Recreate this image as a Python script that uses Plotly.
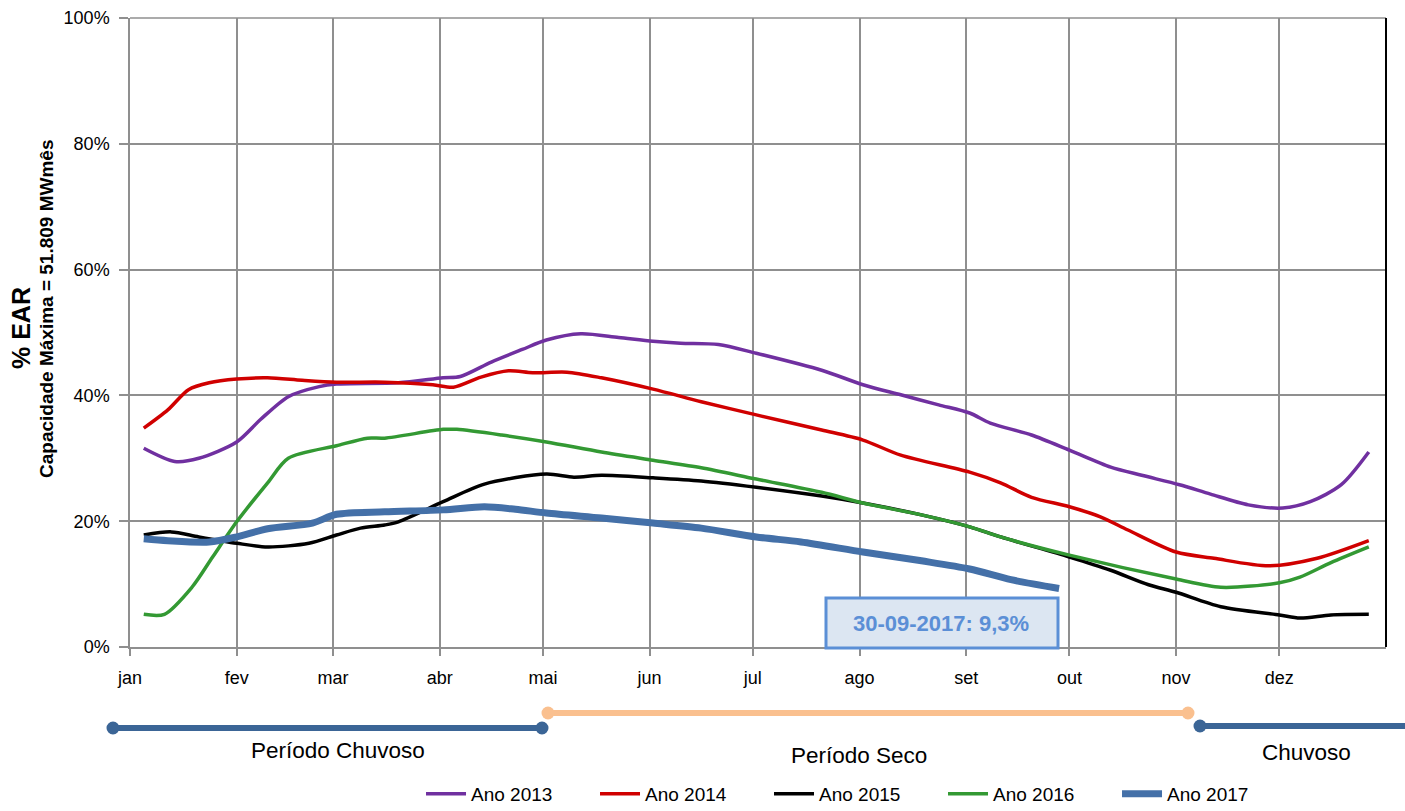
import numpy as np
import plotly.graph_objects as go

# ---- data: % EAR (energia armazenada) by day of year ----
meses = ["jan", "fev", "mar", "abr", "mai", "jun", "jul", "ago", "set", "out", "nov", "dez"]
pct_ticks = [0, 20, 40, 60, 80, 100]

dias_2013 = [4, 13, 20, 31, 38, 46, 55, 60, 78, 91, 96, 105, 114, 121, 131, 142, 152, 160, 171,
             182, 201, 213, 224, 235, 244, 250, 262, 273, 285, 294, 305, 314, 325, 335, 343, 352, 360]
ear_2013 = [31.6, 29.5, 30.0, 32.6, 36.2, 39.8, 41.4, 41.8, 42.0, 42.8, 43.0, 45.3, 47.3, 48.8, 49.8,
            49.2, 48.6, 48.3, 48.1, 46.7, 44.0, 41.7, 40.1, 38.5, 37.2, 35.6, 33.7, 31.3, 28.6, 27.3,
            25.8, 24.3, 22.6, 22.1, 23.1, 25.8, 31.0]

dias_2014 = [4, 11, 17, 23, 31, 40, 50, 60, 74, 88, 94, 102, 110, 117, 127, 137, 152, 166, 182,
             201, 213, 224, 244, 253, 262, 273, 282, 290, 304, 315, 331, 345, 360]
ear_2014 = [34.8, 37.7, 40.9, 42.0, 42.6, 42.8, 42.4, 42.1, 42.1, 41.7, 41.3, 42.9, 43.9, 43.6, 43.7,
            42.8, 41.0, 39.0, 36.9, 34.5, 32.9, 30.5, 27.8, 26.1, 23.8, 22.3, 20.7, 18.6, 15.1, 14.1,
            12.9, 14.1, 16.9]

dias_2015 = [4, 12, 20, 31, 40, 52, 60, 67, 74, 78, 91, 103, 121, 129, 137, 152, 166, 182, 201,
             213, 230, 244, 253, 273, 285, 296, 304, 317, 334, 340, 349, 360]
ear_2015 = [17.8, 18.3, 17.5, 16.5, 15.9, 16.5, 17.8, 18.9, 19.4, 19.9, 23.1, 25.9, 27.5, 27.0, 27.3,
            26.9, 26.4, 25.4, 24.0, 22.9, 21.0, 19.1, 17.5, 14.3, 12.2, 9.9, 8.7, 6.4, 5.1, 4.6, 5.1, 5.2]

dias_2016 = [4, 10, 18, 24, 31, 40, 46, 60, 69, 74, 91, 95, 108, 121, 137, 152, 166, 182, 201,
             213, 230, 244, 253, 273, 304, 317, 334, 340, 349, 360]
ear_2016 = [5.2, 5.2, 9.5, 14.3, 19.9, 26.1, 30.0, 32.0, 33.2, 33.2, 34.6, 34.6, 33.7, 32.6, 31.0,
            29.7, 28.5, 26.7, 24.6, 22.9, 21.0, 19.1, 17.5, 14.6, 10.8, 9.5, 10.2, 11.1, 13.4, 15.9]

dias_2017 = [4, 11, 23, 31, 40, 53, 60, 74, 91, 103, 112, 121, 137, 152, 166, 182, 195, 213, 230,
             244, 256, 270]
ear_2017 = [17.2, 16.9, 16.7, 17.5, 18.8, 19.7, 21.1, 21.5, 21.8, 22.3, 21.9, 21.3, 20.5, 19.7, 18.9,
            17.5, 16.7, 15.1, 13.7, 12.4, 10.7, 9.3]

series = [
    ("Ano 2013", dias_2013, ear_2013, "#7030A0", 3.5),
    ("Ano 2014", dias_2014, ear_2014, "#D00000", 3.5),
    ("Ano 2015", dias_2015, ear_2015, "#000000", 3.5),
    ("Ano 2016", dias_2016, ear_2016, "#339933", 3.5),
    ("Ano 2017", dias_2017, ear_2017, "#4470A8", 7),
]

inicio = np.datetime64("2017-01-01")


def to_dates(dias):
    return [str(inicio + np.timedelta64(int(d), "D")) for d in dias]


mes_ticks = [str(np.datetime64("2017-%02d-01" % m)) for m in range(1, 13)]

FONT = "Liberation Sans, Arial, sans-serif"
GRID = "#8f8f8f"

fig = go.Figure()
for nome, dias, vals, cor, lw in series:
    fig.add_trace(go.Scatter(
        x=to_dates(dias), y=vals, name=nome, mode="lines",
        line=dict(color=cor, width=lw, shape="spline", smoothing=0.8),
    ))

fig.update_layout(
    width=1405, height=811,
    margin=dict(l=130, r=19, t=18, b=164, autoexpand=False),
    paper_bgcolor="white", plot_bgcolor="white",
    showlegend=True,
    legend=dict(
        orientation="h", x=0.2317, y=-0.2035, xanchor="left", yanchor="top",
        font=dict(family=FONT, size=19, color="#000"),
        itemwidth=40, entrywidth=119, entrywidthmode="pixels",
        bgcolor="rgba(0,0,0,0)", tracegroupgap=0,
    ),
    xaxis=dict(
        type="date", range=["2017-01-01", "2018-01-01"],
        tickvals=mes_ticks, ticktext=meses,
        showgrid=True, gridcolor=GRID, gridwidth=1.5,
        showline=True, linecolor=GRID, linewidth=1.5,
        ticks="outside", ticklen=7, tickcolor=GRID, tickwidth=1.5,
        ticklabelstandoff=7,
        tickfont=dict(family=FONT, size=18, color="#000"),
        zeroline=False,
    ),
    yaxis=dict(
        range=[0, 100], tickvals=pct_ticks, ticktext=[f"{v}%" for v in pct_ticks],
        showgrid=True, gridcolor=GRID, gridwidth=1.5,
        showline=True, linecolor=GRID, linewidth=1.5,
        ticks="outside", ticklen=9, tickcolor=GRID, tickwidth=1.5,
        ticklabelstandoff=6,
        tickfont=dict(family=FONT, size=18, color="#000"),
        zeroline=False,
    ),
)

W, H = 1256.0, 629.0  # plot area in px


def px(xp):
    return (xp - 130) / W


def py(yp):
    return (647 - yp) / H


shapes = []
# frame: top and right edges
shapes.append(dict(type="line", xref="paper", yref="paper", x0=0, x1=1, y0=1, y1=1,
                   line=dict(color=GRID, width=1.5)))
shapes.append(dict(type="line", xref="paper", yref="paper", x0=1, x1=1, y0=0, y1=1,
                   line=dict(color="#000000", width=2)))

# annotation box for the last 2017 value
shapes.append(dict(type="rect", xref="paper", yref="paper",
                   x0=px(826), x1=px(1058), y0=py(648), y1=py(598),
                   fillcolor="#DCE6F2", line=dict(color="#5B8FD6", width=3)))

# period bars under the axis
CHUVA = "#3B6596"
SECO = "#FAC08F"
periodos = [
    (113, 542, 728, CHUVA, [113, 542]),
    (548, 1188, 713, SECO, [548, 1188]),
    (1200, 1410, 726, CHUVA, [1200]),
]
for x0, x1, yy, cor, pontas in periodos:
    shapes.append(dict(type="line", xref="paper", yref="paper", x0=px(x0), x1=px(x1),
                       y0=py(yy), y1=py(yy), line=dict(color=cor, width=6)))
    for p in pontas:
        shapes.append(dict(type="circle", xref="paper", yref="paper",
                           xsizemode="pixel", ysizemode="pixel",
                           xanchor=px(p), yanchor=py(yy), x0=-6.5, x1=6.5, y0=-6.5, y1=6.5,
                           fillcolor=cor, line=dict(color=cor, width=0)))
fig.update_layout(shapes=shapes)

anns = [
    dict(text="<b>30-09-2017: 9,3%</b>", x=px(941), y=py(623),
         font=dict(family=FONT, size=22, color="#5B8FD6")),
    dict(text="Período Chuvoso", x=px(338), y=py(750),
         font=dict(family=FONT, size=22.5, color="#000")),
    dict(text="Período Seco", x=px(859), y=py(755),
         font=dict(family=FONT, size=22.5, color="#000")),
    dict(text="Chuvoso", x=px(1306), y=py(752),
         font=dict(family=FONT, size=22.5, color="#000")),
    dict(text="<b>% EAR</b>", x=px(21), y=py(328), textangle=-90,
         font=dict(family=FONT, size=25, color="#000")),
    dict(text="<b>Capacidade Máxima = 51.809 MWmês</b>", x=px(46), y=py(309), textangle=-90,
         font=dict(family=FONT, size=19, color="#000")),
]
for a in anns:
    a.update(xref="paper", yref="paper", showarrow=False, xanchor="center", yanchor="middle")
fig.update_layout(annotations=anns)

fig.write_html("out.html")
